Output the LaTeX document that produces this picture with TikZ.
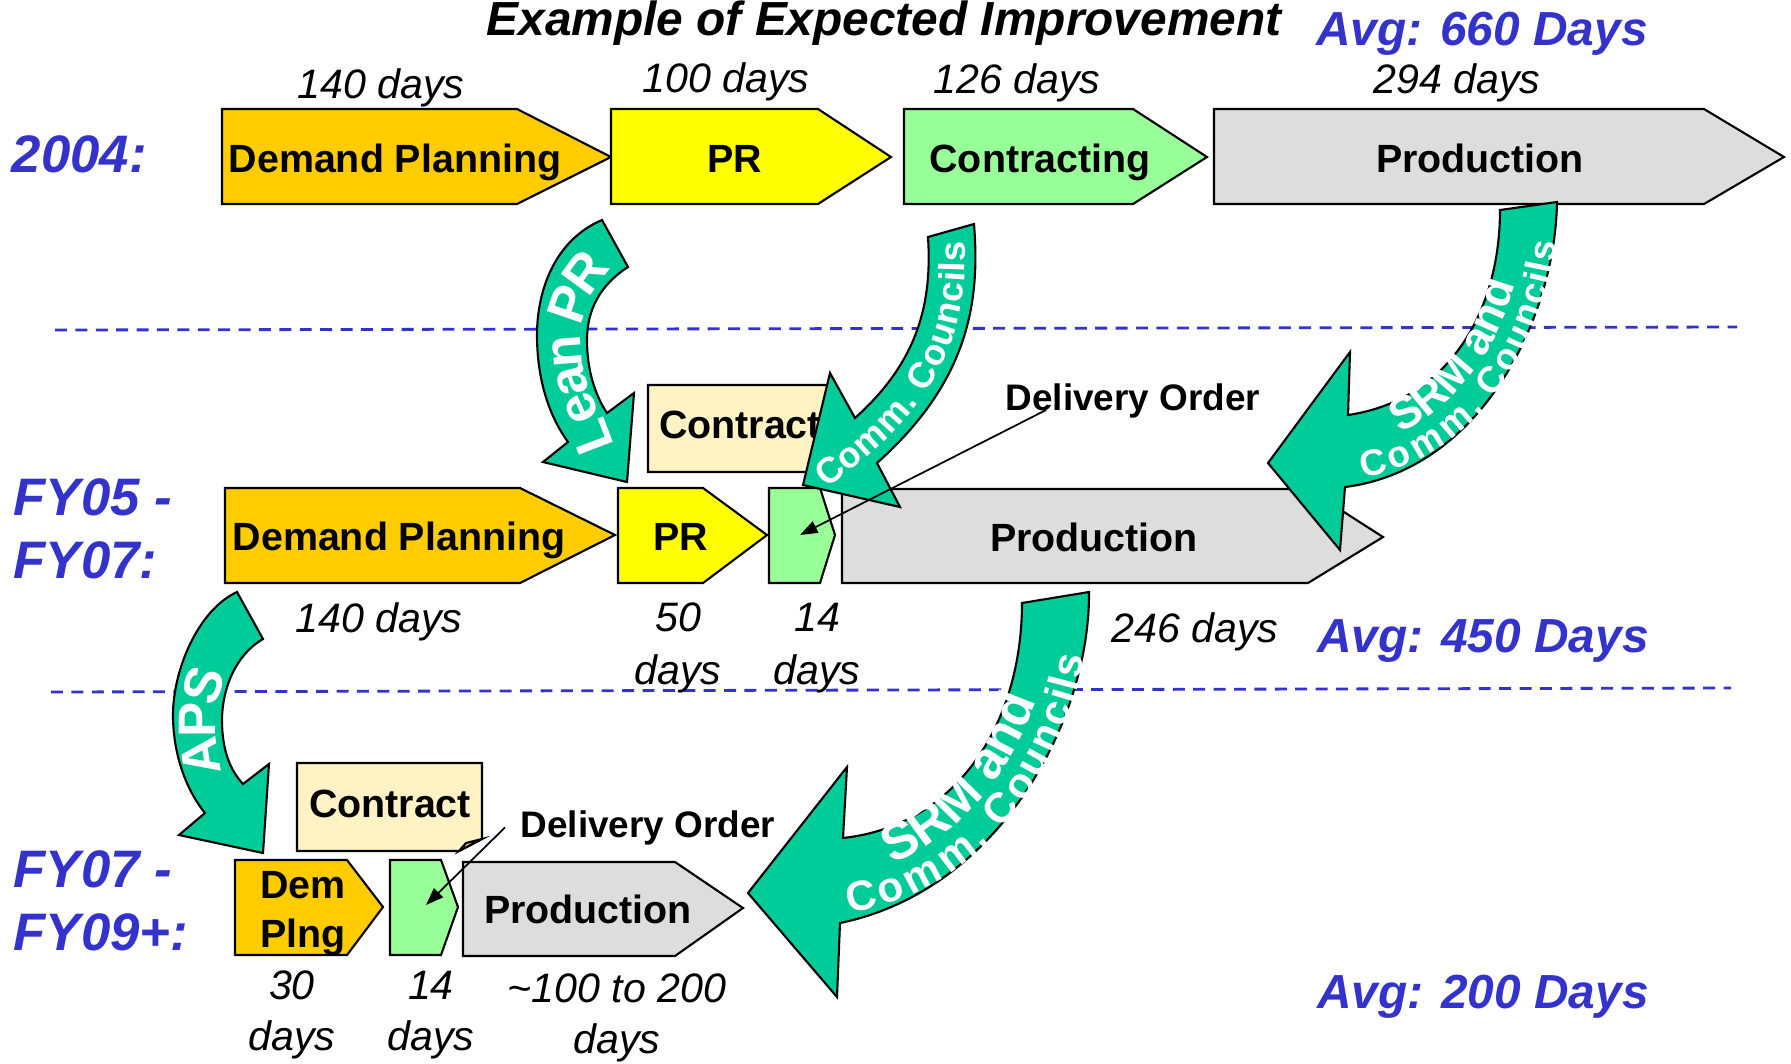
\documentclass[tikz,border=0pt]{standalone}
\usepackage{fontspec}
\setmainfont{Liberation Sans}
\usetikzlibrary{arrows.meta,decorations.text}

\definecolor{dpcol}{HTML}{FFCC00}
\definecolor{prcol}{HTML}{FFFF00}
\definecolor{ctcol}{HTML}{99FF99}
\definecolor{prodcol}{HTML}{DDDDDD}
\definecolor{notecol}{HTML}{FFF2C4}
\definecolor{foldcol}{HTML}{D8CB98}
\definecolor{curlcol}{HTML}{00CC99}
\definecolor{rowblue}{HTML}{3333CC}

\newcommand\curlfont[1]{\bfseries\fontsize{#1}{#1}\selectfont}

\begin{document}
\begin{tikzpicture}[x=0.01cm, y=-0.01cm,
    stage/.style={draw=black, line width=0.6pt},
    boxtxt/.style={font=\bfseries\fontsize{11.2pt}{13.9pt}\selectfont, inner sep=0pt, anchor=base, align=center},
    dotxt/.style={font=\bfseries\fontsize{10.5pt}{12pt}\selectfont, inner sep=0pt, anchor=base west},
    daystxt/.style={font=\itshape\fontsize{11.7pt}{14.8pt}\selectfont, inner sep=0pt, anchor=base, align=center},
    rowtxt/.style={font=\bfseries\itshape\fontsize{15pt}{17.9pt}\selectfont, text=rowblue, inner sep=0pt, anchor=base west, align=left},
    avgtxt/.style={font=\bfseries\itshape\fontsize{13.6pt}{16pt}\selectfont, text=rowblue, inner sep=0pt, anchor=base},
    curl/.style={fill=curlcol, draw=black, line width=0.6pt},
    curltxt/.style={decorate, decoration={text along path, text color=white, #1}},
    doarrow/.style={-{Triangle[length=5pt,width=3.6pt]}, line width=0.5pt},
    rowline/.style={rowblue, line width=0.8pt, dash pattern=on 3.4pt off 2.4pt}]
\useasboundingbox (0,0) rectangle (1791,1063);

% lines between the rows
\draw[rowline] (55,330) -- (1737,327);
\draw[rowline] (51,692) -- (1731,688);

% title and averages
\node[font=\bfseries\itshape\fontsize{13.6pt}{16pt}\selectfont, inner sep=0pt, anchor=base] (title) at (884,35) {Example of Expected Improvement};
\node[avgtxt] (avg04) at (1482,45) {Avg: 660 Days};
\node[avgtxt] (avg05) at (1483,652) {Avg: 450 Days};
\node[avgtxt] (avg07) at (1483,1008) {Avg: 200 Days};

% row labels (base = last line)
\node[rowtxt] (y04) at (11,172) {2004:};
\node[rowtxt] (y05) at (13,578) {FY05 -\\FY07:};
\node[rowtxt] (y07) at (13,950) {FY07 -\\FY09+:};

% 2004
\draw[stage, fill=dpcol] (222,109) -- (517,109) -- (611,157) -- (517,204) -- (222,204) -- cycle;
\draw[stage, fill=prcol] (611,109) -- (818,109) -- (891,157) -- (818,204) -- (611,204) -- cycle;
\draw[stage, fill=ctcol] (904,109) -- (1133,109) -- (1207,157) -- (1133,204) -- (904,204) -- cycle;
\draw[stage, fill=prodcol] (1214,109) -- (1704,109) -- (1784,157) -- (1704,204) -- (1214,204) -- cycle;
\node[boxtxt] (dp04) at (395,172) {Demand Planning};
\node[boxtxt] (pr04) at (735,172) {PR};
\node[boxtxt] (ct04) at (1040,172) {Contracting};
\node[boxtxt] (pd04) at (1480,172) {Production};
\node[daystxt] (dp04d) at (381,98) {140 days};
\node[daystxt] (pr04d) at (726,92) {100 days};
\node[daystxt] (ct04d) at (1017,93) {126 days};
\node[daystxt] (pd04d) at (1457,93) {294 days};

% FY05 - FY07
\draw[stage, fill=notecol] (648,385) -- (833,385) -- (833,460) -- (810,472) -- (648,472) -- cycle;
\draw[stage, fill=foldcol] (810,472) -- (816,464) -- (833,460) -- cycle;
\node[boxtxt] (ct05) at (740,438) {Contract};
\draw[stage, fill=dpcol] (225,488) -- (520,488) -- (615,535) -- (520,583) -- (225,583) -- cycle;
\draw[stage, fill=prcol] (618,488) -- (703,488) -- (767,535) -- (703,583) -- (618,583) -- cycle;
\draw[stage, fill=ctcol] (769,488) -- (820,488) -- (835,535) -- (820,583) -- (769,583) -- cycle;
\draw[stage, fill=prodcol] (842,489) -- (1308,489) -- (1383,537) -- (1308,583) -- (842,583) -- cycle;
\coordinate (g05) at (800,535);
\node[boxtxt] (dp05) at (399,550) {Demand Planning};
\node[boxtxt] (pr05) at (681,550) {PR};
\node[boxtxt] (pd05) at (1094,551) {Production};
\node[dotxt] (do05) at (1005,410) {Delivery Order};
\node[daystxt] (dp05d) at (379,632) {140 days};
\node[daystxt] (pr05d) at (678,684) {50\\days};
\node[daystxt] (g05d) at (817,684) {14\\days};
\node[daystxt] (pd05d) at (1195,642) {246 days};

% FY07 - FY09+
\draw[stage, fill=notecol] (297,763) -- (482,763) -- (482,839) -- (459,851) -- (297,851) -- cycle;
\draw[stage, fill=foldcol] (459,851) -- (466,843) -- (482,839) -- cycle;
\node[boxtxt] (ct07) at (390,817) {Contract};
\draw[stage, fill=dpcol] (235,860) -- (347,860) -- (383,907) -- (347,955) -- (235,955) -- cycle;
\draw[stage, fill=ctcol] (390,860) -- (441,860) -- (458,907) -- (441,955) -- (390,955) -- cycle;
\draw[stage, fill=prodcol] (463,862) -- (675,862) -- (743,908) -- (675,956) -- (463,956) -- cycle;
\coordinate (g07) at (426,905);
\node[boxtxt] (dp07) at (303,947) {Dem\\Plng};
\node[boxtxt] (pd07) at (588,923) {Production};
\node[dotxt] (do07) at (520,837) {Delivery Order};
\node[daystxt, font=\itshape\fontsize{11.7pt}{14.3pt}\selectfont] (dp07d) at (292,1050) {30\\days};
\node[daystxt, font=\itshape\fontsize{11.7pt}{14.3pt}\selectfont] (g07d) at (431,1050) {14\\days};
\node[daystxt, font=\itshape\fontsize{11.7pt}{14.3pt}\selectfont] (pd07d) at (617,1053) {\textasciitilde100 to 200\\days};

% curled arrows
\draw[curl] (602,220) .. controls (555,240) and (537,290) .. (537,335)
    .. controls (537,385) and (552,420) .. (568,442) -- (543,462) -- (627,482) -- (634,393) -- (607,413)
    .. controls (595,395) and (587,370) .. (587,340) .. controls (587,310) and (600,285) .. (628,267) -- cycle;
\path[curltxt={text={|\curlfont{15pt}|Lean PR}, text align=center, raise=-5.4pt}]
    (603,470) -- (587,428) .. controls (570,400) and (562,370) .. (562,338) .. controls (562,300) and (585,262) .. (612,246);

\draw[curl] (974,224) .. controls (980,300) and (970,380) .. (877,463) -- (900,507) -- (803,485) -- (830,373) -- (855,418)
    .. controls (920,360) and (932,300) .. (928,237) -- cycle;
\path[curltxt={text={|\curlfont{10.3pt}|Comm. Councils}, text align=center, raise=-3.7pt}]
    (810,486) -- (866,440) .. controls (945,370) and (956,300) .. (951,230);

\draw[curl] (1557,202) .. controls (1555,320) and (1480,470) .. (1345,487) -- (1340,550) -- (1268,463) -- (1350,352) -- (1348,415)
    .. controls (1450,400) and (1500,310) .. (1500,210) -- cycle;
\path[curltxt={text={|\curlfont{13pt}|SRM and}, text align=center, raise=0.6pt}]
    (1325,458) -- (1346,451) .. controls (1465,435) and (1528,315) .. (1528,206);
\path[curltxt={text={|\curlfont{10.5pt}|Comm. Councils}, text align=center, raise=-8.5pt}]
    (1325,458) -- (1346,451) .. controls (1465,435) and (1528,315) .. (1528,206);

\draw[curl] (237,592) .. controls (198,610) and (173,670) .. (173,715) .. controls (173,760) and (190,795) .. (205,813)
    -- (179,835) -- (263,853) -- (269,764) -- (243,784)
    .. controls (230,770) and (222,750) .. (222,720) .. controls (222,690) and (235,655) .. (263,639) -- cycle;
\path[curltxt={text={|\curlfont{15pt}|APS}, text align=center, raise=-5.4pt}]
    (212,800) .. controls (200,770) and (197,745) .. (197,720) .. controls (197,695) and (205,668) .. (224,648);

\draw[curl] (1089,592) .. controls (1090,720) and (1000,890) .. (840,923) -- (837,997) -- (748,893) -- (847,767) -- (843,838)
    .. controls (960,825) and (1022,720) .. (1022,603) -- cycle;
\path[curltxt={text={|\curlfont{15pt}|SRM and}, text align=center, raise=0.5pt}]
    (790,890) -- (842,880) .. controls (980,858) and (1056,720) .. (1055,597);
\path[curltxt={text={|\curlfont{12pt}|Comm. Councils}, text align=center, raise=-9.6pt}]
    (790,890) -- (842,880) .. controls (980,858) and (1056,720) .. (1055,597);

% delivery order pointers
\draw[doarrow] ([xshift=0.41cm]do05.base west) -- (g05);
\draw[doarrow] ([xshift=-0.15cm]do07.west) -- (g07);
\end{tikzpicture}
\end{document}
